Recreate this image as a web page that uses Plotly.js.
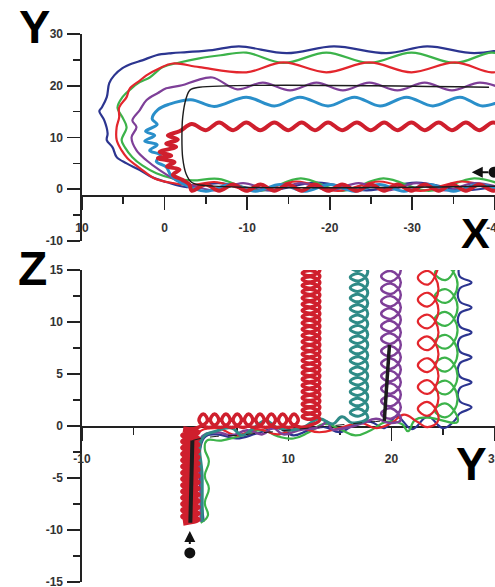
<!DOCTYPE html>
<html><head><meta charset="utf-8">
<script src="https://cdn.plot.ly/plotly-3.0.1.min.js"></script>
<style>html,body{margin:0;padding:0;background:#fff;}#chart{width:495px;height:587px;}</style>
</head><body><div id="chart"></div>
<script>
// ---------- Tick labels ----------
const topXTicks = [10, 0, -10, -20, -30, -40];
const topXTickText = ['10', '0', '-10', '-20', '-30', '-40'];
const topXMinor = [5, -5, -15, -25, -35];
const topYTicks = [30, 20, 10, 0, -10];
const topYTickText = ['30', '20', '10', '0', '-10'];
const topYMinor = [25, 15, 5, -5];
const botXTicks = [-10, 0, 10, 20, 30];
const botXTickText = ['-10', '0', '10', '20', '30'];
const botXMinor = [-5, 5, 15, 25];
const botYTicks = [15, 10, 5, 0, -5, -10, -15];
const botYTickText = ['15', '10', '5', '0', '-5', '-10', '-15'];
const botYMinor = [12.5, 7.5, 2.5, -2.5, -7.5, -12.5];
const panelLetters = ['Y', 'X', 'Z', 'Y'];

// ---------- Top panel (X horizontal, Y vertical) ----------
const topBlueX = [-41,-36.5,-30.5,-24.5,-18.5,-12.5,-6.5,-2.7,-0.2,1.5,3,4.6,5.8,6.3,7.0,6.9,7.3,7.9,7.6,7.0,6.7,6.1,5.1,3.9,2.7,1,-0.9,-2.7,-5.8,-9,-14.8,-20.5,-26.9,-31.8,-37.5,-41.5];
const topBlueY = [0.9,-0.2,1.3,-0.2,1.3,-0.2,1.2,0.4,1.4,2.3,3.7,5,6.2,8.1,9.5,10.8,13.3,15.1,15.8,17.8,20.5,22,23.4,24.3,24.9,25.9,26.3,26.5,26.9,27.6,26.3,27.6,26.3,27.6,26.3,27.2];

const topGreenX = [-41,-37.5,-32,-26.5,-21.5,-16.5,-11.5,-6.5,-3.4,-1,1,2.7,3.9,4.8,5.2,4.6,5.1,5.7,5.1,4,3,1.8,0.2,-1.8,-4.2,-6.8,-9.9,-14.4,-19.6,-24.8,-29.9,-35.2,-39.6,-42];
const topGreenY = [0.8,2.1,-0.3,2.1,-0.3,2.1,-0.3,2.0,1.7,2.1,3.1,4.6,6.2,8.1,9.5,12,13.9,15.8,17.8,19.5,20.7,21.6,23.6,24.5,25.3,25.9,26.4,24.4,26.4,24.4,26.4,24.4,26.4,25.5];

const topRedX = [-41,-36,-31,-26,-21,-16,-11,-6,-3.4,-1,1.2,3,4.5,5.2,5.8,5.8,5.5,5.5,4.6,4.2,3,2.2,0.6,-1,-4.2,-9.9,-14.4,-19.6,-24.8,-29.9,-35.2,-39.6,-42];
const topRedY = [-0.3,1.5,-0.3,1.5,-0.3,1.5,-0.3,1.4,0.8,1.2,2.1,4.1,6,7.5,9.5,12,13.9,15.8,17.8,19.5,21,22,23.4,24.3,23.6,22.6,24.5,22.6,24.5,22.6,24.5,22.6,23.5];

const topPurpleX = [-41,-37.5,-34,-30.5,-27,-23.5,-20,-16.5,-13,-9.5,-6,-2.5,-1.5,0.6,2.2,3.4,4,3.4,3.9,3,2.2,0.8,-0.2,-2.1,-3.8,-5.8,-8.8,-11.9,-15.2,-18.4,-21.6,-24.8,-28.2,-31.5,-34.8,-38.2,-41.5];
const topPurpleY = [0.2,1.2,-0.2,1.2,-0.2,1.2,-0.2,1.2,-0.2,1.2,-0.2,1.2,1.7,3.7,5.6,7.5,10,12,13.3,15.3,17.2,18.6,19.5,20.1,21,21.6,19.3,20.6,19.1,20.6,19.1,20.6,19.1,20.6,19.1,20.6,19.1];

const topCyanX = [-41,-38,-35,-32,-29,-26,-23,-20,-17,-14,-11,-8,-5,-2,-0.8,-0.2,1.0,0.5,1.8,0.9,2.4,1.2,2.3,0.9,1.5,0.8,-0.5,-3.2,-6.0,-9.9,-13.3,-16.4,-19.8,-23,-26.1,-29.3,-32.5,-35.8,-38.5,-41.8];
const topCyanY = [-0.4,0.9,-0.4,0.9,-0.4,0.9,-0.4,0.9,-0.4,0.9,-0.4,0.9,-0.4,1.2,2.6,4.3,5.4,6.6,7.5,8.6,9.3,10.4,11.2,12.5,13.6,15.4,16.4,17.3,16.0,17.8,16.1,17.8,16.1,17.8,16.1,17.8,16.1,17.8,16.1,17.8];

const topThickX = [-41.4,-39.8,-38.1,-36.5,-34.8,-33.2,-31.5,-29.9,-28.2,-26.6,-25.0,-23.3,-21.5,-19.8,-18.2,-16.6,-15.0,-13.3,-11.6,-9.9,-8.3,-6.6,-5.0,-3.3,
  -3,-2.2,-1.0,-1.8,-0.3,-1.2,0.8,-0.8,0.6,-1.4,-0.2,-1.6,-0.4,-1.8,
  -3.3,-5.0,-6.6,-8.3,-9.9,-11.6,-13.3,-15.0,-16.6,-18.2,-19.8,-21.5,-23.3,-25.0,-26.6,-28.2,-29.9,-31.5,-33.2,-34.8,-36.5,-38.1,-39.8,-41.4];
const topThickY = [0.9,-0.3,0.9,-0.3,0.9,-0.3,0.9,-0.3,0.9,-0.3,0.9,-0.3,0.9,-0.3,0.9,-0.3,0.9,-0.3,0.9,-0.3,0.9,-0.3,0.9,-0.3,
  0.9,1.8,2.8,3.8,4.4,5.2,6.0,6.5,7.2,8.2,8.8,9.6,10.4,11.2,
  12.6,11.4,12.9,11.4,12.9,11.4,12.9,11.4,12.9,11.4,12.9,11.4,12.9,11.4,12.9,11.4,12.9,11.4,12.9,11.4,12.9,11.4,12.9,11.4];

const topBlackX = [-40.5,-5,-3.3,-2.6,-2.2,-2.1,-2.2,-2.6,-3.1,-4.2,-39.3];
const topBlackY = [0.6,0.7,1.3,3,6,10,14,17.5,19.2,19.7,19.7];

const topDotX = [-39.9], topDotY = [3.3];
const topArrow = {head: [-37.2, 3.3], tail: [-39.4, 3.3]};

// ---------- Bottom panel (Y horizontal, Z vertical) ----------
const botBlueY = [1.8,1.8, 3,5,7,9,10.5,12,13.5,15,16.5,18,19.3,20.5,22,23.5,25,26.1,
  26.6,27.75,26.6, 26.6,27.75,26.6, 26.6,27.75,26.6, 26.6,27.75,26.6, 26.6,27.75,26.6, 26.6,27.75,26.6, 26.6];
const botBlueZ = [-9.2,-1.2, -0.8,-1.2,-0.7,-0.2,-0.9,-0.4,-0.1,-0.6,0.2,0.4,-0.2,0.9,-0.3,0.9,-0.2,0.5,
  1.2,1.8,2.4, 3.6,4.2,4.8, 6.0,6.6,7.2, 8.4,9.0,9.6, 10.8,11.4,12.0, 13.2,13.8,14.4, 15.5];

const botGreenY = [1.5,2.2,1.9,2.3,1.9,2.3,1.9,2.1, 3.5,5.5,7.5,9,10.5,12,13.5,15,16.5,18,19.5,21,21.6,22.3,23.5,
  26.4,25.3,24.2,25.3, 26.4,25.3,24.2,25.3, 26.4,25.3,24.2,25.3, 26.4,25.3,24.2,25.3,
  26.4,25.3,24.2,25.3, 26.4,25.3,24.2,25.3, 26.4,25.3,24.2,25.3, 26.4];
const botGreenZ = [-9.3,-8.6,-7.4,-6.0,-4.8,-3.4,-2.2,-1.4, -1.4,-0.9,-0.4,-1.0,-1.2,-0.6,0.2,-0.3,-0.9,-0.4,0.4,0.2,-0.5,0.6,0.8,
  0.4,2.15,1.5,0.85, 2.6,4.35,3.7,3.05, 4.8,6.55,5.9,5.25, 7.0,8.75,8.1,7.45,
  9.2,10.95,10.3,9.65, 11.4,13.15,12.5,11.85, 13.6,15.35,14.7,14.05, 15.8];

const botRedY = [1.0,1.0, 3,5,7,9,11,13,15,17,18.5,20,21.2,22.5,23.5,
  24.55,23.55,22.55,23.55, 24.55,23.55,22.55,23.55, 24.55,23.55,22.55,23.55, 24.55,23.55,22.55,23.55,
  24.55,23.55,22.55,23.55, 24.55,23.55,22.55,23.55, 24.55,23.55,22.55,23.55, 24.55];
const botRedZ = [-9.0,-1.0, -0.2,-0.9,-0.3,-0.8,-0.2,-0.6,-0.2,0.3,-0.2,0.3,1.1,0.4,-0.1,
  0.6,2.3,1.65,1.0, 2.7,4.4,3.75,3.1, 4.8,6.5,5.85,5.2, 6.9,8.6,7.95,7.3,
  9.0,10.7,10.05,9.4, 11.1,12.8,12.15,11.5, 13.2,14.9,14.25,13.6, 15.3];

const botPurpleY = [1.5,1.5,1.5, 3,4.5,6,7.5,8.5,9.5,11,13,13.8,14.2,15.5,17,18.5,19.8,
  20.9,19.95,19.0,19.95, 20.9,19.95,19.0,19.95, 20.9,19.95,19.0,19.95, 20.9,19.95,19.0,19.95,
  20.9,19.95,19.0,19.95, 20.9,19.95,19.0,19.95, 20.9,19.95,19.0,19.95, 20.9,19.95,19.0,19.95,
  20.9,19.95,19.0,19.95, 20.9,19.95,19.0,19.95, 20.9,19.95,19.0,19.95, 20.9,19.95,19.0,19.95,
  20.9,19.95,19.0,19.95, 20.9];
const botPurpleZ = [-9.2,-5,-1.2, -0.6,-0.9,-0.4,-0.8,-0.2,-0.8,-0.4,-0.1,0.4,-0.3,-0.2,0.2,0.7,0.3,
  0.6,1.7,1.2,0.7, 1.8,2.9,2.4,1.9, 3.0,4.1,3.6,3.1, 4.2,5.3,4.8,4.3,
  5.4,6.5,6.0,5.5, 6.6,7.7,7.2,6.7, 7.8,8.9,8.4,7.9, 9.0,10.1,9.6,9.1,
  10.2,11.3,10.8,10.3, 11.4,12.5,12.0,11.5, 12.6,13.7,13.2,12.7, 13.8,14.9,14.4,13.9,
  15.0,16.1,15.6,15.1, 16.2];

const botTealY = [1.65,1.65,1.65, 3,4.5,5.5,6.5,7.8,8.8,10,11.5,13,14.3,15.2,16.2,
  17.7,16.85,16.0,16.85, 17.7,16.85,16.0,16.85, 17.7,16.85,16.0,16.85, 17.7,16.85,16.0,16.85, 17.7,16.85,16.0,16.85,
  17.7,16.85,16.0,16.85, 17.7,16.85,16.0,16.85, 17.7,16.85,16.0,16.85, 17.7,16.85,16.0,16.85, 17.7,16.85,16.0,16.85,
  17.7,16.85,16.0,16.85, 17.7,16.85,16.0,16.85, 17.7,16.85,16.0,16.85, 17.7,16.85,16.0,16.85, 17.7,16.85,16.0,16.85,
  17.7];
const botTealZ = [-9.2,-5,-1.2, -0.5,-0.2,-0.9,-0.3,0.5,-0.1,-0.4,-0.1,0.7,0.2,0.9,0.3,
  0.8,1.65,1.3,0.95, 1.8,2.65,2.3,1.95, 2.8,3.65,3.3,2.95, 3.8,4.65,4.3,3.95, 4.8,5.65,5.3,4.95,
  5.8,6.65,6.3,5.95, 6.8,7.65,7.3,6.95, 7.8,8.65,8.3,7.95, 8.8,9.65,9.3,8.95, 9.8,10.65,10.3,9.95,
  10.8,11.65,11.3,10.95, 11.8,12.65,12.3,11.95, 12.8,13.65,13.3,12.95, 13.8,14.65,14.3,13.95, 14.8,15.65,15.3,14.95,
  15.8];

const botThickColY = [-0.2,1.2,-0.2,1.2,-0.2,1.2,-0.2,1.2,-0.2,1.2,-0.2,1.2,-0.2,1.2,-0.2,1.2,-0.2,1.2,-0.2,1.2,-0.2,1.2,-0.2,1.2,-0.2,1.2,-0.2,1.2,-0.2,1.2,-0.2];
const botThickColZ = [-9.3,-9.0,-8.7,-8.4,-8.1,-7.8,-7.5,-7.2,-6.9,-6.6,-6.3,-6.0,-5.7,-5.4,-5.1,-4.8,-4.5,-4.2,-3.9,-3.6,-3.3,-3.0,-2.7,-2.4,-2.1,-1.8,-1.5,-1.2,-0.9,-0.6,-0.3];

const botThickLoopY = [0.4,
  1.2,2.15,1.75,1.35, 2.3,3.25,2.85,2.45, 3.4,4.35,3.95,3.55, 4.5,5.45,5.05,4.65, 5.6,6.55,6.15,5.75,
  6.7,7.65,7.25,6.85, 7.8,8.75,8.35,7.95, 8.9,9.85,9.45,9.05, 10.0,10.95,10.55,10.15,
  11.1,12.2,
  13.05,12.2,11.35,12.2, 13.05,12.2,11.35,12.2, 13.05,12.2,11.35,12.2, 13.05,12.2,11.35,12.2, 13.05,12.2,11.35,12.2,
  13.05,12.2,11.35,12.2, 13.05,12.2,11.35,12.2, 13.05,12.2,11.35,12.2, 13.05,12.2,11.35,12.2, 13.05,12.2,11.35,12.2,
  13.05,12.2,11.35,12.2, 13.05,12.2,11.35,12.2, 13.05,12.2,11.35,12.2, 13.05,12.2,11.35,12.2, 13.05,12.2,11.35,12.2,
  13.05,12.2,11.35,12.2, 13.05,12.2,11.35,12.2, 13.05,12.2,11.35,12.2, 13.05,12.2,11.35,12.2, 13.05,12.2,11.35,12.2,
  13.05,12.2,11.35,12.2, 13.05,12.2,11.35,12.2, 13.05,12.2,11.35,12.2, 13.05,12.2,11.35,12.2, 13.05,12.2,11.35,12.2,
  13.05];
const botThickLoopZ = [-0.3,
  -0.15,0.5,1.15,0.5, -0.15,0.5,1.15,0.5, -0.15,0.5,1.15,0.5, -0.15,0.5,1.15,0.5, -0.15,0.5,1.15,0.5,
  -0.15,0.5,1.15,0.5, -0.15,0.5,1.15,0.5, -0.15,0.5,1.15,0.5, -0.15,0.5,1.15,0.5,
  -0.1,0.1,
  0.6,1.15,0.9,0.65, 1.2,1.75,1.5,1.25, 1.8,2.35,2.1,1.85, 2.4,2.95,2.7,2.45, 3.0,3.55,3.3,3.05,
  3.6,4.15,3.9,3.65, 4.2,4.75,4.5,4.25, 4.8,5.35,5.1,4.85, 5.4,5.95,5.7,5.45, 6.0,6.55,6.3,6.05,
  6.6,7.15,6.9,6.65, 7.2,7.75,7.5,7.25, 7.8,8.35,8.1,7.85, 8.4,8.95,8.7,8.45, 9.0,9.55,9.3,9.05,
  9.6,10.15,9.9,9.65, 10.2,10.75,10.5,10.25, 10.8,11.35,11.1,10.85, 11.4,11.95,11.7,11.45, 12.0,12.55,12.3,12.05,
  12.6,13.15,12.9,12.65, 13.2,13.75,13.5,13.25, 13.8,14.35,14.1,13.85, 14.4,14.95,14.7,14.45, 15.0,15.55,15.3,15.05,
  15.6];

const botBlackColY = [0.5, 0.7], botBlackColZ = [-9.3, -1.4];
const botBlackPathY = [0.7,1.5,3,5,7,9,11,13,15,17,19.3];
const botBlackPathZ = [-1.4,-1.2,-1.0,-0.9,-0.7,-0.5,-0.3,-0.1,0.1,0.3,0.5];
const botBlackStemY = [19.3, 19.8], botBlackStemZ = [0.5, 7.8];

const botDotY = [0.45], botDotZ = [-12.2];
const botArrow = {head: [0.45, -10.1], tail: [0.45, -11.5]};

// ---------- Styling ----------
const COL = {navy:'#2c3590', green:'#3cb34a', red:'#e3262d', purple:'#7e3f98', cyan:'#2a8fca',
             thick:'#cf1f2d', teal:'#2f8b87', black:'#1c1c1c'};

function ln(x, y, color, width, xa, ya, dash, shape, sm) {
  return {type:'scatter', mode:'lines', x:x, y:y, xaxis:xa, yaxis:ya,
    line:{color:color, width:width, shape:shape || 'spline', smoothing:sm || 1, dash:dash || 'solid'},
    hoverinfo:'skip', showlegend:false};
}
function dot(x, y, xa, ya) {
  return {type:'scatter', mode:'markers', x:x, y:y, xaxis:xa, yaxis:ya,
    marker:{color:'#111', size:11}, hoverinfo:'skip', showlegend:false};
}

const traces = [
  ln(topBlueX, topBlueY, COL.navy, 2.2, 'x', 'y'),
  ln(topGreenX, topGreenY, COL.green, 2.2, 'x', 'y'),
  ln(topRedX, topRedY, COL.red, 2.2, 'x', 'y'),
  ln(topPurpleX, topPurpleY, COL.purple, 2.2, 'x', 'y'),
  ln(topCyanX, topCyanY, COL.cyan, 3, 'x', 'y'),
  ln(topThickX, topThickY, COL.thick, 4, 'x', 'y'),
  ln(topBlackX, topBlackY, COL.black, 1.4, 'x', 'y'),
  dot(topDotX, topDotY, 'x', 'y'),

  ln(botBlueY, botBlueZ, COL.navy, 2.2, 'x2', 'y2', 'solid', 'spline', 1.2),
  ln(botGreenY, botGreenZ, COL.green, 2.2, 'x2', 'y2', 'solid', 'spline', 1.3),
  ln(botRedY, botRedZ, COL.red, 2.2, 'x2', 'y2', 'solid', 'spline', 1.3),
  ln(botPurpleY, botPurpleZ, COL.purple, 2.5, 'x2', 'y2', 'solid', 'spline', 1.3),
  ln(botTealY, botTealZ, COL.teal, 3, 'x2', 'y2', 'solid', 'spline', 1.3),
  ln(botThickColY, botThickColZ, COL.thick, 6, 'x2', 'y2'),
  ln(botThickLoopY, botThickLoopZ, COL.thick, 3.5, 'x2', 'y2', 'solid', 'spline', 1.3),
  ln(botBlackColY, botBlackColZ, COL.black, 4, 'x2', 'y2', 'solid', 'linear'),
  ln(botBlackPathY, botBlackPathZ, COL.black, 1, 'x2', 'y2', 'dash'),
  ln(botBlackStemY, botBlackStemZ, COL.black, 3.5, 'x2', 'y2', 'solid', 'linear'),
  dot(botDotY, botDotZ, 'x2', 'y2')
];

const tickFont = {family:'Liberation Sans, Arial, sans-serif', size:12, color:'#333', weight:'bold'};
const base = {showgrid:false, zeroline:false, showline:true, linecolor:'#222', linewidth:1.6,
  ticks:'outside', tickcolor:'#222', tickwidth:1.6, ticklen:13, tickfont:tickFont,
  layer:'below traces', fixedrange:true, tickmode:'array', ticklabeloverflow:'allow'};
function minor(vals){ return {ticks:'outside', ticklen:7, tickwidth:1.6, tickcolor:'#222', tickmode:'array', tickvals:vals, showgrid:false}; }

const W = 495, H = 587;
const letterFont = (s) => ({family:'Liberation Sans, Arial, sans-serif', size:s, color:'#000', weight:'bold'});
const letterPos = [[34, 26, 47], [475, 233, 43], [32, 268, 48], [471, 464, 46]];
const annotations = panelLetters.map((t, i) => ({text:t, xref:'paper', yref:'paper',
  x:letterPos[i][0]/W, y:1 - letterPos[i][1]/H, xanchor:'center', yanchor:'middle', showarrow:false,
  font:letterFont(letterPos[i][2])}));
annotations.push({text:'', xref:'x', yref:'y', x:topArrow.head[0], y:topArrow.head[1],
  axref:'x', ayref:'y', ax:topArrow.tail[0], ay:topArrow.tail[1], showarrow:true,
  arrowhead:2, arrowsize:1.1, arrowwidth:2, arrowcolor:'#111', standoff:0, startstandoff:0});
annotations.push({text:'', xref:'x2', yref:'y2', x:botArrow.head[0], y:botArrow.head[1],
  axref:'x2', ayref:'y2', ax:botArrow.tail[0], ay:botArrow.tail[1], showarrow:true,
  arrowhead:2, arrowsize:1.1, arrowwidth:2, arrowcolor:'#111', standoff:0, startstandoff:0});

const layout = {
  width:W, height:H, autosize:false, margin:{l:0, r:0, t:0, b:0, pad:0},
  paper_bgcolor:'#fff', plot_bgcolor:'rgba(0,0,0,0)', showlegend:false,
  xaxis: Object.assign({}, base, {domain:[82/W, 1], range:[10, -40.02], anchor:'free', position:(H-195)/H,
    tickvals:topXTicks, ticktext:topXTickText, minor:minor(topXMinor), ticklabelstandoff:8}),
  yaxis: Object.assign({}, base, {domain:[(H-241)/H, (H-34)/H], range:[-10, 30], anchor:'x',
    tickvals:topYTicks, ticktext:topYTickText, minor:minor(topYMinor), ticklabelstandoff:2}),
  xaxis2: Object.assign({}, base, {domain:[82/W, 1], range:[-10, 30.03], anchor:'free', position:(H-426)/H,
    tickvals:botXTicks, ticktext:botXTickText, minor:minor(botXMinor), ticklabelstandoff:8}),
  yaxis2: Object.assign({}, base, {domain:[(H-582)/H, (H-270)/H], range:[-15, 15], anchor:'x2',
    tickvals:botYTicks, ticktext:botYTickText, minor:minor(botYMinor), ticklabelstandoff:2}),
  annotations: annotations
};

Plotly.newPlot('chart', traces, layout, {staticPlot:true, displayModeBar:false});
</script>
</body></html>
